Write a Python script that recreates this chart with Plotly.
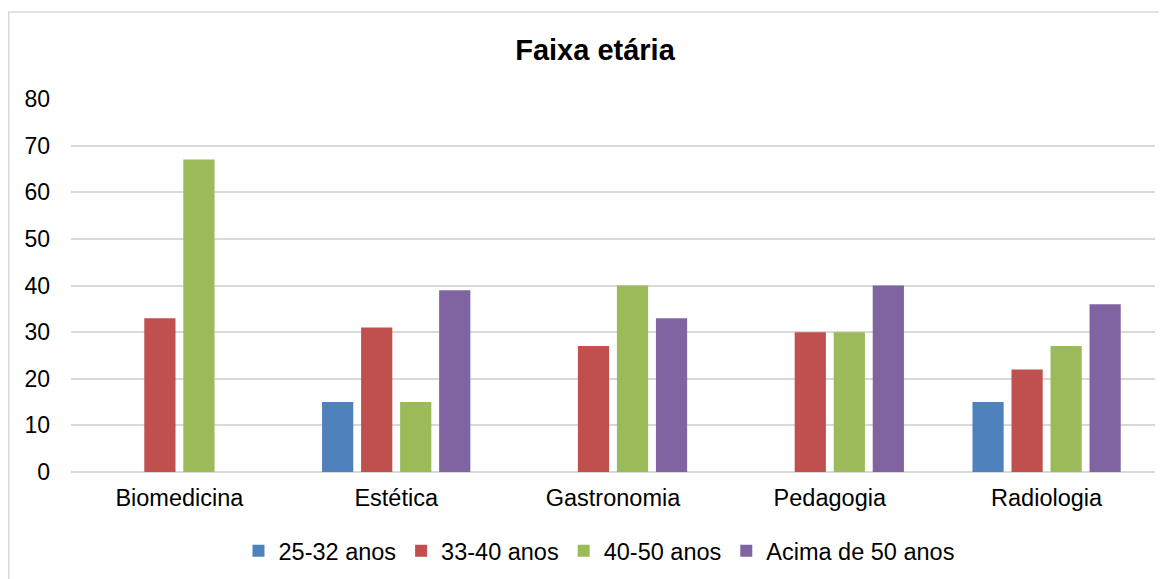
import plotly.graph_objects as go

categories = ["Biomedicina", "Estética", "Gastronomia", "Pedagogia", "Radiologia"]
series_names = ["25-32 anos", "33-40 anos", "40-50 anos", "Acima de 50 anos"]
anos_25_32 = [0, 15, 0, 0, 15]
anos_33_40 = [33, 31, 27, 30, 22]
anos_40_50 = [67, 15, 40, 30, 27]
acima_50 = [0, 39, 33, 40, 36]
y_ticks = [0, 10, 20, 30, 40, 50, 60, 70, 80]

colors = ["#4F81BD", "#C0504D", "#9BBB59", "#8064A2"]
FONT = "Liberation Sans, Arial, sans-serif"

# the page body adds an 8px margin, so the figure is a bit smaller than the window
W, H = 1159, 571
L, R, T, B = 63, 12, 91, 107
plot_w = W - L - R
plot_h = H - T - B

fig = go.Figure()
for name, values, color in zip(series_names, [anos_25_32, anos_33_40, anos_40_50, acima_50], colors):
    fig.add_trace(go.Bar(
        name=name,
        x=categories,
        y=values,
        marker=dict(color=color, line=dict(width=0)),
    ))

fig.update_layout(
    width=W,
    height=H,
    paper_bgcolor="white",
    plot_bgcolor="white",
    barmode="group",
    bargap=0.28,
    bargroupgap=0.2,
    margin=dict(l=L, r=R, t=T, b=B, autoexpand=False),
    font=dict(family=FONT, color="#000000", size=23),
    title=dict(
        text="<b>Faixa etária</b>",
        x=587 / W,
        xanchor="center",
        xref="container",
        y=1 - 42 / H,
        yanchor="middle",
        yref="container",
        font=dict(family=FONT, size=29, color="#000000"),
    ),
    legend=dict(
        orientation="h",
        x=(591 - L) / plot_w,
        xanchor="center",
        y=-(543 - (H - B)) / plot_h,
        yanchor="middle",
        font=dict(size=23.5),
        itemwidth=30,
        traceorder="normal",
    ),
    shapes=[dict(
        type="rect",
        xref="paper", yref="paper",
        x0=(0.75 - L) / plot_w, x1=1.2,
        y0=-0.5, y1=((H - B) - 4) / plot_h,
        line=dict(color="#D9D9D9", width=1.5),
        layer="below",
    )],
)

fig.update_xaxes(
    showline=False,
    ticks="",
    tickfont=dict(size=23.5),
    ticklabelstandoff=9,
)
fig.update_yaxes(
    range=[0, 80],
    tickvals=y_ticks,
    showgrid=True,
    gridcolor="#D9D9D9",
    gridwidth=1.5,
    zeroline=True,
    zerolinecolor="#D9D9D9",
    zerolinewidth=1.5,
    showline=False,
    ticks="",
    tickfont=dict(size=23),
    ticklabelstandoff=20,
)

fig.write_html("out.html")
